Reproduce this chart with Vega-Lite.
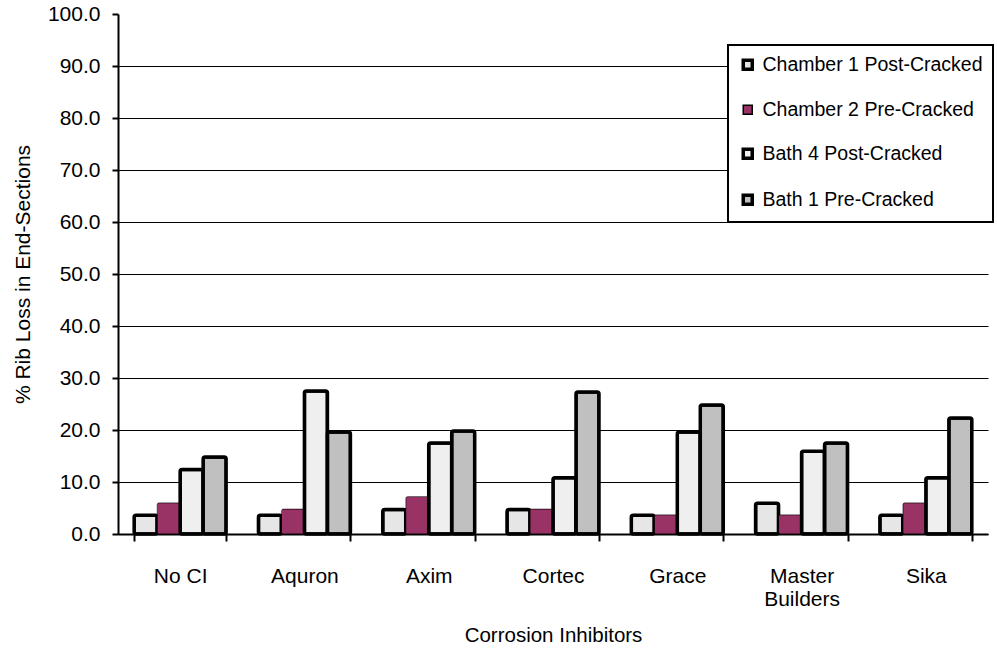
{
  "$schema": "https://vega.github.io/schema/vega-lite/v6.json",
  "autosize": "none",
  "padding": {"left": 118, "top": 14, "right": 9, "bottom": 122},
  "width": 870,
  "height": 520,
  "background": "white",
  "config": {
    "view": {"stroke": null},
    "font": "Liberation Sans",
    "axis": {"labelColor": "black", "titleColor": "black", "titleFontWeight": "normal", "domainColor": "black", "tickColor": "black"}
  },
  "data": {
    "values": [
      {"category": "No CI", "series": "Chamber 1 Post-Cracked", "value": 3.6},
      {"category": "No CI", "series": "Chamber 2 Pre-Cracked", "value": 6.0},
      {"category": "No CI", "series": "Bath 4 Post-Cracked", "value": 12.4},
      {"category": "No CI", "series": "Bath 1 Pre-Cracked", "value": 14.8},
      {"category": "Aquron", "series": "Chamber 1 Post-Cracked", "value": 3.6},
      {"category": "Aquron", "series": "Chamber 2 Pre-Cracked", "value": 4.8},
      {"category": "Aquron", "series": "Bath 4 Post-Cracked", "value": 27.5},
      {"category": "Aquron", "series": "Bath 1 Pre-Cracked", "value": 19.6},
      {"category": "Axim", "series": "Chamber 1 Post-Cracked", "value": 4.7},
      {"category": "Axim", "series": "Chamber 2 Pre-Cracked", "value": 7.2},
      {"category": "Axim", "series": "Bath 4 Post-Cracked", "value": 17.5},
      {"category": "Axim", "series": "Bath 1 Pre-Cracked", "value": 19.8},
      {"category": "Cortec", "series": "Chamber 1 Post-Cracked", "value": 4.7},
      {"category": "Cortec", "series": "Chamber 2 Pre-Cracked", "value": 4.8},
      {"category": "Cortec", "series": "Bath 4 Post-Cracked", "value": 10.8},
      {"category": "Cortec", "series": "Bath 1 Pre-Cracked", "value": 27.3},
      {"category": "Grace", "series": "Chamber 1 Post-Cracked", "value": 3.6},
      {"category": "Grace", "series": "Chamber 2 Pre-Cracked", "value": 3.7},
      {"category": "Grace", "series": "Bath 4 Post-Cracked", "value": 19.6},
      {"category": "Grace", "series": "Bath 1 Pre-Cracked", "value": 24.8},
      {"category": "Master Builders", "series": "Chamber 1 Post-Cracked", "value": 5.9},
      {"category": "Master Builders", "series": "Chamber 2 Pre-Cracked", "value": 3.7},
      {"category": "Master Builders", "series": "Bath 4 Post-Cracked", "value": 15.9},
      {"category": "Master Builders", "series": "Bath 1 Pre-Cracked", "value": 17.5},
      {"category": "Sika", "series": "Chamber 1 Post-Cracked", "value": 3.6},
      {"category": "Sika", "series": "Chamber 2 Pre-Cracked", "value": 6.0},
      {"category": "Sika", "series": "Bath 4 Post-Cracked", "value": 10.8},
      {"category": "Sika", "series": "Bath 1 Pre-Cracked", "value": 22.3}
    ]
  },
  "mark": {"type": "bar", "stroke": "black", "cornerRadius": 2, "strokeJoin": "round"},
  "encoding": {
    "x": {
      "field": "category", "type": "nominal",
      "sort": ["No CI", "Aquron", "Axim", "Cortec", "Grace", "Master Builders", "Sika"],
      "scale": {"paddingInner": 0.26, "paddingOuter": 0.13},
      "axis": {
        "title": "Corrosion Inhibitors", "titleFontSize": 20.5, "titlePadding": 16,
        "labelAngle": 0, "labelFontSize": 21, "labelPadding": 24, "labelLineHeight": 23,
        "labelExpr": "datum.value == 'Master Builders' ? ['Master', 'Builders'] : datum.value",
        "tickBand": "extent", "tickSize": 7, "tickWidth": 2, "domainWidth": 2, "grid": false
      }
    },
    "xOffset": {
      "field": "series", "type": "nominal",
      "sort": ["Chamber 1 Post-Cracked", "Chamber 2 Pre-Cracked", "Bath 4 Post-Cracked", "Bath 1 Pre-Cracked"],
      "scale": {"paddingInner": 0, "paddingOuter": 0}
    },
    "y": {
      "field": "value", "type": "quantitative",
      "scale": {"domain": [0, 100], "nice": false},
      "axis": {
        "title": "% Rib Loss in End-Sections", "titleFontSize": 21, "titlePadding": 14,
        "values": [0, 10, 20, 30, 40, 50, 60, 70, 80, 90, 100], "format": ".1f",
        "labelFontSize": 21, "labelPadding": 12, "tickSize": 6, "tickWidth": 2, "domainWidth": 2,
        "grid": true, "gridColor": "black", "gridWidth": 1,
        "gridOpacity": {"condition": {"test": "datum.value >= 100", "value": 0}, "value": 1}
      }
    },
    "fill": {
      "field": "series", "type": "nominal",
      "scale": {
        "domain": ["Chamber 1 Post-Cracked", "Chamber 2 Pre-Cracked", "Bath 4 Post-Cracked", "Bath 1 Pre-Cracked"],
        "range": ["#E6E6E6", "#993366", "#EFEFEF", "#C0C0C0"]
      },
      "legend": {
        "title": null, "orient": "none", "legendX": 610, "legendY": 31,
        "labelFontSize": 19.5, "labelColor": "black", "labelOffset": 5, "labelLimit": 400,
        "symbolType": "square", "symbolSize": 81, "symbolStrokeColor": "black", "symbolStrokeWidth": 3.5,
        "rowPadding": 22, "padding": 10, "strokeColor": "black", "fillColor": "white",
        "encode": {
          "legend": {"update": {"strokeWidth": {"value": 2}}},
          "symbols": {"update": {"strokeWidth": {"signal": "datum.value === 'Chamber 2 Pre-Cracked' ? 1.5 : 3.5"}}}
        }
      }
    },
    "strokeWidth": {
      "condition": {"test": "datum.series === 'Chamber 2 Pre-Cracked'", "value": 0.5},
      "value": 3.5
    }
  }
}
